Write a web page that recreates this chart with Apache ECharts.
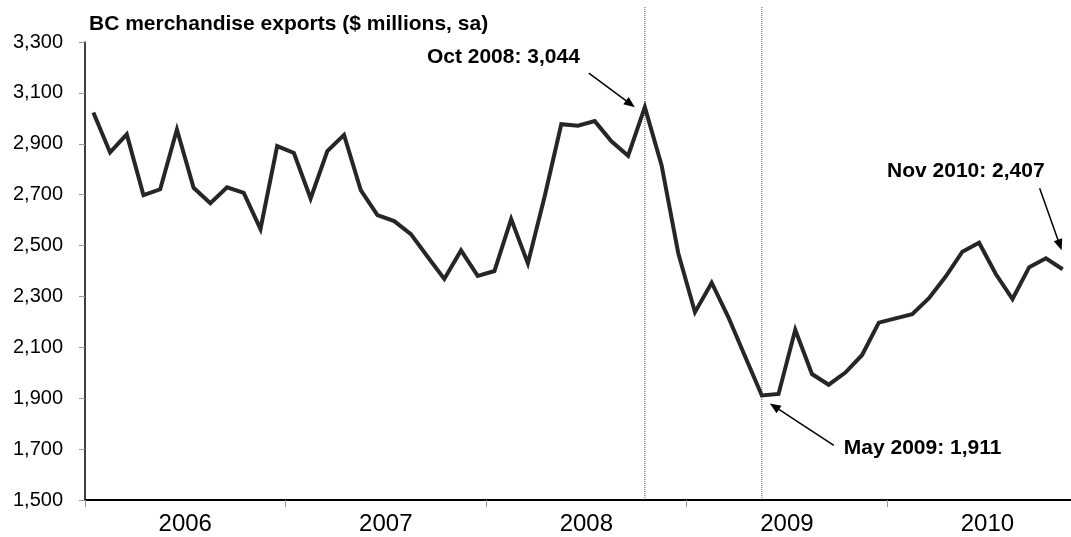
<!DOCTYPE html>
<html>
<head>
<meta charset="utf-8">
<title>BC merchandise exports</title>
<script src="https://cdn.jsdelivr.net/npm/echarts@6/dist/echarts.min.js"></script>
<style>
  html, body { margin: 0; padding: 0; background: #fff; }
  #chart { width: 1071px; height: 537px; }
</style>
</head>
<body>
<div id="chart"></div>
<script>
// tick labels on the x axis (one per year)
const years = ['2006', '2007', '2008', '2009', '2010']
const monthNames = ['Jan', 'Feb', 'Mar', 'Apr', 'May', 'Jun', 'Jul', 'Aug', 'Sep', 'Oct', 'Nov', 'Dec']

// BC merchandise exports, $ millions, seasonally adjusted
const exports2006 = [3023, 2866, 2937, 2698, 2721, 2956, 2727, 2666, 2729, 2707, 2565, 2891]
const exports2007 = [2864, 2685, 2871, 2935, 2718, 2620, 2596, 2545, 2456, 2369, 2481, 2381]
const exports2008 = [2400, 2604, 2430, 2692, 2977, 2971, 2989, 2910, 2853, 3044, 2816, 2470]
const exports2009 = [2238, 2354, 2218, 2064, 1911, 1917, 2169, 1995, 1953, 2001, 2070, 2197]
const exports2010 = [2214, 2230, 2293, 2378, 2476, 2511, 2388, 2290, 2415, 2450, 2407]

const yTicks = [1500, 1700, 1900, 2100, 2300, 2500, 2700, 2900, 3100, 3300]

// months that get a callout (vline = dotted vertical marker)
const callouts = [
  { month: 'Oct 2008', vline: true, text: [-65, -50, 'right'], tail: [-56, -34], tip: [-10, 0] },
  { month: 'May 2009', vline: true, text: [82, 53, 'left'], tail: [72, 50], tip: [8, 8] },
  { month: 'Nov 2010', vline: false, text: [-18, -98, 'right'], tail: [-23, -81], tip: [-1, -19] }
]

const values = [].concat(exports2006, exports2007, exports2008, exports2009, exports2010)
const months = []
years.forEach(y => monthNames.forEach(m => months.push(m + ' ' + y)))
months.length = values.length

const FONT = '"Liberation Sans", Arial, sans-serif'
const fmt = v => v.toLocaleString('en-US')

const chart = echarts.init(document.getElementById('chart'))

const option = {
  animation: false,
  backgroundColor: '#fff',
  title: {
    text: 'BC merchandise exports ($ millions, sa)',
    left: 84,
    top: 9,
    textStyle: { fontFamily: FONT, fontSize: 21, fontWeight: 'bold', color: '#000' }
  },
  grid: { left: 85, right: -7, top: 42, bottom: 37, containLabel: false },
  xAxis: {
    type: 'value',
    min: 0,
    max: months.length,
    axisLine: { lineStyle: { color: '#000', width: 2 } },
    axisTick: {
      show: true,
      length: 7,
      customValues: years.map((y, i) => i * 12),
      lineStyle: { color: '#999', width: 1 }
    },
    axisLabel: {
      customValues: years.map((y, i) => i * 12 + 6),
      formatter: v => years[Math.floor(v / 12)],
      margin: 12,
      fontFamily: FONT,
      fontSize: 24,
      color: '#000'
    },
    splitLine: { show: false }
  },
  yAxis: {
    type: 'value',
    min: yTicks[0],
    max: yTicks[yTicks.length - 1],
    interval: 200,
    axisLine: { show: true, lineStyle: { color: '#000', width: 1.5 } },
    axisTick: { show: true, length: 6, lineStyle: { color: '#999' } },
    axisLabel: {
      formatter: fmt,
      margin: 22,
      fontFamily: FONT,
      fontSize: 20,
      color: '#000'
    },
    splitLine: { show: false }
  },
  series: [{
    name: 'BC merchandise exports',
    type: 'line',
    data: values.map((v, i) => [i + 0.5, v]),
    showSymbol: false,
    lineStyle: { color: '#262626', width: 4, join: 'miter' },
    clip: false
  }]
}

chart.setOption(option)

// callouts and dotted markers, placed from the data through the chart scales
const graphics = []
const topPx = chart.convertToPixel({ yAxisIndex: 0 }, yTicks[yTicks.length - 1]) - 35
const botPx = chart.convertToPixel({ yAxisIndex: 0 }, yTicks[0]) - 2

callouts.forEach(c => {
  const idx = months.indexOf(c.month)
  const v = values[idx]
  const p = chart.convertToPixel({ seriesIndex: 0 }, [idx + 0.5, v])

  if (c.vline) {
    graphics.push({
      type: 'line',
      z: 1,
      shape: { x1: p[0], y1: topPx, x2: p[0], y2: botPx },
      style: { stroke: '#555', lineWidth: 1, lineDash: [1, 1] }
    })
  }

  const tx = p[0] + c.tail[0], ty = p[1] + c.tail[1]
  const hx = p[0] + c.tip[0], hy = p[1] + c.tip[1]
  const len = Math.hypot(hx - tx, hy - ty)
  const ux = (hx - tx) / len, uy = (hy - ty) / len
  const headL = 11, headW = 4.5
  const bx = hx - ux * headL, by = hy - uy * headL
  graphics.push({
    type: 'line',
    z: 10,
    shape: { x1: tx, y1: ty, x2: bx + ux * 2, y2: by + uy * 2 },
    style: { stroke: '#000', lineWidth: 1.5 }
  })
  graphics.push({
    type: 'polygon',
    z: 10,
    shape: { points: [[hx, hy], [bx - uy * headW, by + ux * headW], [bx + uy * headW, by - ux * headW]] },
    style: { fill: '#000' }
  })
  graphics.push({
    type: 'text',
    z: 10,
    x: p[0] + c.text[0],
    y: p[1] + c.text[1],
    style: {
      text: c.month + ': ' + fmt(v),
      align: c.text[2],
      verticalAlign: 'middle',
      fontFamily: FONT,
      fontSize: 21,
      fontWeight: 'bold',
      fill: '#000'
    }
  })
})

chart.setOption({ graphic: graphics })
</script>
</body>
</html>
